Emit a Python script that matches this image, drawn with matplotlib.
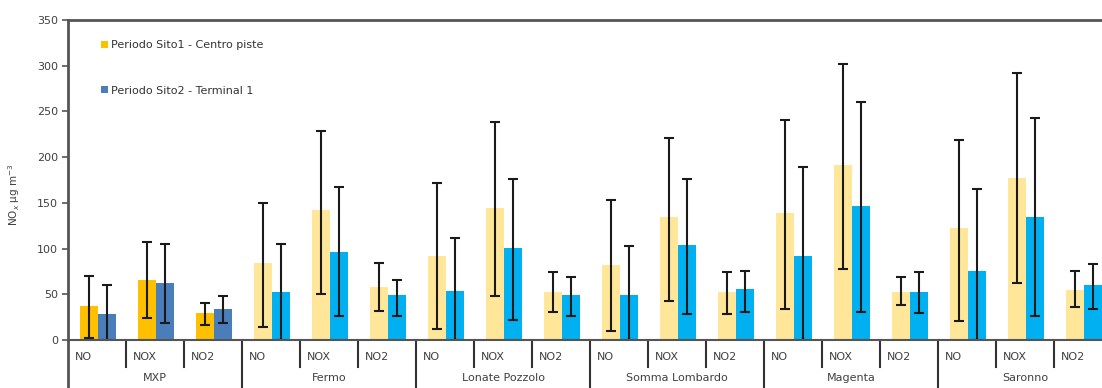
import matplotlib
matplotlib.use("Agg")
import matplotlib.pyplot as plt
import matplotlib.transforms as mtransforms
from matplotlib.patches import Patch
import numpy as np

plt.rcParams['font.family'] = ['DejaVu Sans']

# ---- data ----
groups = ["MXP", "Fermo", "Lonate Pozzolo", "Somma Lombardo", "Magenta", "Saronno"]
pollutants = ["NO", "NOX", "NO2"]
series_names = ["Periodo Sito1 - Centro piste", "Periodo Sito2 - Terminal 1"]

sito1_mean = [37, 66, 30, 84, 142, 58, 92, 144, 53, 82, 134, 53, 139, 191, 53, 122, 177, 55]
sito1_low = [2, 24, 16, 14, 50, 32, 12, 48, 31, 10, 43, 28, 34, 78, 38, 21, 62, 36]
sito1_high = [70, 107, 41, 150, 229, 84, 172, 238, 74, 153, 221, 74, 241, 302, 69, 219, 292, 76]

sito2_mean = [28, 62, 34, 52, 96, 49, 54, 101, 49, 49, 104, 56, 92, 147, 53, 75, 134, 60]
sito2_low = [0, 19, 19, 0, 26, 26, 0, 22, 26, 0, 28, 31, 0, 31, 30, 0, 26, 34]
sito2_high = [60, 105, 48, 105, 167, 66, 112, 176, 69, 103, 176, 76, 189, 260, 74, 165, 243, 83]

yticks = [0, 50, 100, 150, 200, 250, 300, 350]

# ---- figure ----
W, H = 1102, 388
fig = plt.figure(figsize=(W / 100, H / 100), dpi=100)
x0, y0px, x1, ytop = 68, 340, 1112, 20
ax = fig.add_axes([x0 / W, (H - y0px) / H, (x1 - x0) / W, (y0px - ytop) / H])

n = len(groups) * len(pollutants)
idx = np.arange(n)
bw = 0.32
pos1 = idx + 0.36
pos2 = idx + 0.67

col1 = ["#FFC000" if i < 3 else "#FFE699" for i in range(n)]
col2 = ["#4A7EBB" if i < 3 else "#00B0F0" for i in range(n)]

m1 = np.array(sito1_mean, float)
m2 = np.array(sito2_mean, float)
err1 = [m1 - np.array(sito1_low), np.array(sito1_high) - m1]
err2 = [m2 - np.array(sito2_low), np.array(sito2_high) - m2]

ekw = dict(ecolor="#1a1a1a", elinewidth=1.5, capsize=3.6, capthick=1.5)
ax.bar(pos1, m1, width=bw, color=col1, yerr=err1, error_kw=ekw, zorder=2)
ax.bar(pos2, m2, width=bw, color=col2, yerr=err2, error_kw=ekw, zorder=2)

ax.set_xlim(0, n)
ax.set_ylim(0, 350)
ax.set_yticks(yticks)
ax.tick_params(axis="y", direction="out", length=4, width=1.2, colors="#555555",
               labelsize=8, labelcolor="#404040", pad=3)
ax.set_xticks([])
ax.tick_params(axis="x", length=0)

for s in ["left", "top", "bottom"]:
    ax.spines[s].set_color("#555555")
ax.spines["left"].set_linewidth(2)
ax.spines["top"].set_linewidth(2)
ax.spines["bottom"].set_linewidth(1.5)
ax.spines["right"].set_visible(False)

ax.set_ylabel("NO$_x$ µg m$^{-3}$", fontsize=7.5, color="#404040")
ax.yaxis.set_label_coords(-0.044, 0.455)

# multi-level category axis
trans = mtransforms.blended_transform_factory(ax.transData, ax.transAxes)
px = 1.0 / (y0px - ytop)  # one pixel in axes fraction
for i in range(1, n):
    if i % 3 == 0:
        ax.plot([i, i], [0, -60 * px], color="#333333", lw=1.5, transform=trans, clip_on=False)
    else:
        ax.plot([i, i], [0, -27 * px], color="#333333", lw=1.5, transform=trans, clip_on=False)
ax.plot([0, 0], [0, -60 * px], color="#555555", lw=2, transform=trans, clip_on=False)

for i in range(n):
    ax.text(i + 0.12, -17 * px, pollutants[i % 3], transform=trans, ha="left", va="center",
            fontsize=8, color="#404040")
for g, name in enumerate(groups):
    ax.text(g * 3 + 1.5, -38 * px, name, transform=trans, ha="center", va="center",
            fontsize=8, color="#404040")

# legend
handles = [Patch(facecolor="#FFC000", edgecolor="none"), Patch(facecolor="#4A7EBB", edgecolor="none")]
leg = ax.legend(handles, series_names, loc="upper left", bbox_to_anchor=(0.032, 0.937),
                frameon=False, fontsize=8, handlelength=0.55, handleheight=0.55,
                handletextpad=0.3, labelspacing=3.2, borderaxespad=0, borderpad=0)
for t in leg.get_texts():
    t.set_color("#333333")

fig.savefig("out.png", dpi=100)
